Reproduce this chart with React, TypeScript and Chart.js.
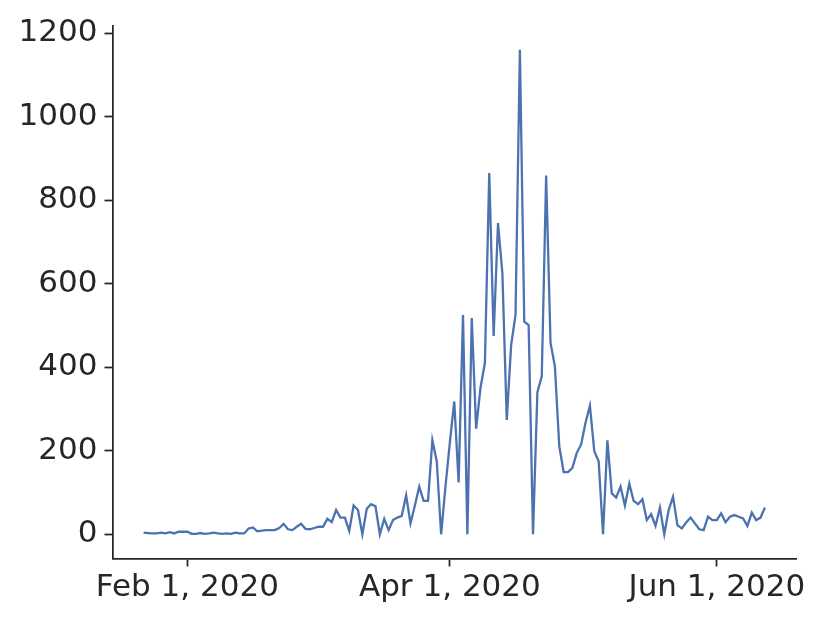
import React, { useEffect, useRef } from "react";
import { Chart, registerables } from "chart.js";

Chart.register(...registerables);

// Daily values from 2020-01-22 to 2020-06-12 (index 0 = Jan 22, 2020)
const firstDay = "2020-01-22";
const dailyValues: number[] = [
  4, 3, 2, 2, 4, 2, 5, 2, 6, 6, 6, 1, 1, 3, 1, 2, 4, 2, 1, 2, 1, 4, 2, 2,
  14, 16, 7, 9,
  10, 10, 10, 15, 25, 12, 10, 18, 25, 13, 12, 15, 18, 18, 37, 29, 58, 40, 40, 8, 69, 58, 0, 61, 72, 67, 0, 37,
  10, 34, 40, 44, 93, 26, 69, 114, 80, 80, 225, 175,
  0, 115, 220, 318, 124, 525, 0, 518, 253, 351, 410, 865, 475, 745, 625, 274, 453, 525, 1160, 509, 501,
  0, 340, 378, 859, 459, 402, 211, 149, 149, 159, 195, 215, 267, 308, 199, 175, 0, 225,
  98, 88, 114, 69, 121, 80, 72, 84, 34, 48, 20, 64, 0, 58, 90, 22,
  14, 28, 40, 26, 12, 10, 42, 34, 34, 50, 29, 42, 46, 42, 38, 20, 52, 34, 40, 64,
];

// Tick positions are day offsets from firstDay
const xTickDays: number[] = [10, 70, 131];
const xTickLabels: string[] = ["Feb 1, 2020", "Apr 1, 2020", "Jun 1, 2020"];
const yTickValues: number[] = [0, 200, 400, 600, 800, 1000, 1200];

const INK = "#262626";
const LINE = "#4c72b0";
const FONT = "'DejaVu Sans', sans-serif";

export default function App() {
  const ref = useRef<HTMLCanvasElement | null>(null);

  useEffect(() => {
    if (!ref.current) return;
    const n = dailyValues.length;
    const xSpan = n - 1;
    const yMaxData = Math.max(...dailyValues);
    const yMinData = Math.min(...dailyValues);
    const yPad = (yMaxData - yMinData) * 0.05;
    const xPad = xSpan * 0.05;

    const points = dailyValues.map((v, i) => ({ x: i, y: v }));

    const chart = new Chart(ref.current, {
      type: "line",
      data: {
        datasets: [
          {
            label: firstDay,
            data: points,
            borderColor: LINE,
            borderWidth: 2.3,
            pointRadius: 0,
            tension: 0,
            fill: false,
          },
        ],
      },
      options: {
        animation: false,
        responsive: false,
        devicePixelRatio: 1,
        layout: { padding: { top: 23, right: 34, left: 0, bottom: 0 } },
        plugins: {
          legend: { display: false },
          tooltip: { enabled: false },
        },
        scales: {
          x: {
            type: "linear",
            min: -xPad,
            max: xSpan + xPad,
            afterBuildTicks: (axis: any) => {
              axis.ticks = xTickDays.map((v) => ({ value: v }));
            },
            afterFit: (axis: any) => {
              axis.height = 64.5;
            },
            grid: {
              display: true,
              drawOnChartArea: false,
              drawTicks: true,
              tickLength: 8,
              tickColor: INK,
              tickWidth: 1.75,
            },
            border: { display: true, color: INK, width: 1.75 },
            ticks: {
              color: INK,
              font: { family: FONT, size: 31 },
              padding: 3,
              maxRotation: 0,
              autoSkip: false,
              callback: (v: any) => {
                const idx = xTickDays.indexOf(Number(v));
                return idx >= 0 ? xTickLabels[idx] : "";
              },
            },
          },
          y: {
            type: "linear",
            min: yMinData - yPad,
            max: yMaxData + yPad,
            afterBuildTicks: (axis: any) => {
              axis.ticks = yTickValues.map((v) => ({ value: v }));
            },
            afterFit: (axis: any) => {
              axis.width = 112.5;
            },
            grid: {
              display: true,
              drawOnChartArea: false,
              drawTicks: true,
              tickLength: 8,
              tickColor: INK,
              tickWidth: 1.75,
            },
            border: { display: true, color: INK, width: 1.75 },
            ticks: {
              color: INK,
              font: { family: FONT, size: 31 },
              padding: 7,
              autoSkip: false,
              callback: (v: any) => String(v),
            },
          },
        },
      },
    });
    return () => chart.destroy();
  }, []);

  return (
    <div style={{ position: "fixed", left: 0, top: 0, width: 830, height: 623, background: "#fff" }}>
      <canvas ref={ref} width={830} height={623} style={{ width: 830, height: 623, display: "block" }} />
    </div>
  );
}
